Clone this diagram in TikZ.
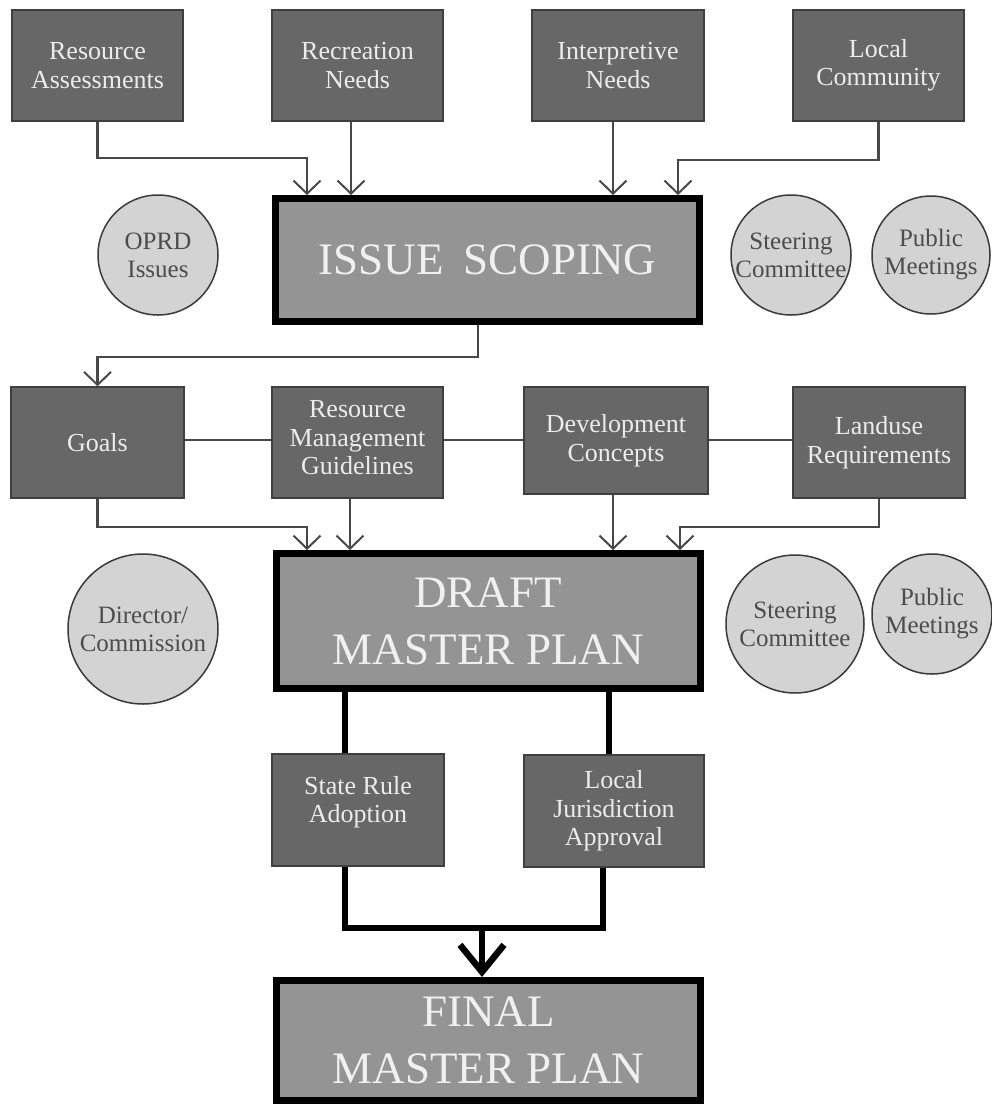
\documentclass[tikz,border=0pt]{standalone}
\usepackage{fontspec}
\setmainfont{Liberation Serif}
\usetikzlibrary{arrows.meta}
\definecolor{boxfill}{HTML}{676767}
\definecolor{boxline}{HTML}{3F3F3F}
\definecolor{boxtext}{HTML}{ECECEC}
\definecolor{bigfill}{HTML}{949494}
\definecolor{bigtext}{HTML}{F0F0F0}
\definecolor{circfill}{HTML}{D3D3D3}
\definecolor{circline}{HTML}{3A3A3A}
\definecolor{circtext}{HTML}{4C4C4C}
\definecolor{linec}{HTML}{484848}
\begin{document}
\begin{tikzpicture}[x=1pt,y=-1pt,
  sbox/.style={draw=boxline, line width=1.5pt, fill=boxfill, text=boxtext,
    minimum width=#1, minimum height=111pt, align=center, inner sep=2pt,
    font=\fontsize{26}{28.5}\selectfont},
  stext/.style={text=boxtext, align=center, inner sep=0pt,
    font=\fontsize{26}{28.5}\selectfont},
  bigbox/.style={draw=black, line width=7pt, fill=bigfill, text=bigtext,
    minimum width=424pt, align=center, inner sep=0pt,
    font=\fontsize{45}{57}\selectfont},
  circnode/.style={circle, draw=circline, line width=1.5pt, fill=circfill,
    text=circtext, minimum size=#1, inner sep=0pt, align=center,
    font=\fontsize{25}{28}\selectfont},
  conn/.style={draw=linec, line width=2.2pt,
    -{Straight Barb[length=13pt,width=27pt,line width=2pt]}},
  plain/.style={draw=linec, line width=2.2pt},
  thickline/.style={draw=black, line width=6.5pt, line join=miter},
  bigarr/.style={draw=black, line width=6.5pt,
    -{Straight Barb[length=27pt,width=44pt,line width=6.5pt]}}
]
\useasboundingbox[fill=white] (0,0) rectangle (992,1104);

% top row
\node[sbox=171pt] (RA) at (97.5,65.5) {Resource\\Assessments};
\node[sbox=171pt] (RN) at (357.5,65.5) {Recreation\\Needs};
\node[sbox=172pt] (IN) at (618,65.5) {Interpretive\\Needs};
\node[sbox=171pt] (LC) at (878.5,65.5) {Local\\Community};

% issue scoping
\node[bigbox, minimum height=123pt] (IS) at (487.5,260) {ISSUE\hspace{0.45em}SCOPING};

\node[circnode=120pt] (OPRD) at (158,255) {OPRD\\Issues};
\node[circnode=120pt] (SC1) at (791,255) {Steering\\Committee};
\node[circnode=118pt] (PM1) at (931,255) {Public\\Meetings};

% second row
\node[sbox=173pt] (GO) at (97.5,442.5) {Goals};
\node[sbox=171pt] (RMG) at (357.5,442.5) {};
\node[stext] (RMGt) at (357.5,438) {Resource\\Management\\Guidelines};
\node[sbox=184pt, minimum height=107pt] (DC) at (616,440.5) {Development\\Concepts};
\node[sbox=172pt] (LR) at (879,442.5) {Landuse\\Requirements};

% draft master plan
\node[bigbox, minimum height=135pt] (DM) at (488,621) {DRAFT\\MASTER PLAN};

\node[circnode=150pt] (DIR) at (143,629) {Director/\\Commission};
\node[circnode=138pt] (SC2) at (795,624) {Steering\\Committee};
\node[circnode=120pt] (PM2) at (932,614) {Public\\Meetings};

% third row
\node[sbox=172pt, minimum height=112pt] (SR) at (358,810) {};
\node[stext] (SRt) at (358,802) {State Rule\\Adoption};
\node[sbox=180pt, minimum height=112pt] (LJ) at (614,811) {Local\\Jurisdiction\\Approval};

% final master plan
\node[bigbox, minimum height=120pt] (FM) at (488.5,1040.5) {FINAL\\MASTER PLAN};

% connectors: top row -> issue scoping
\coordinate (b1) at (307,158);
\coordinate (b2) at (678,160);
\draw[conn] (RA.south) |- (b1) -- (IS.north -| b1);
\draw[conn] (RN.south -| 351,0) -- (IS.north -| 351,0);
\draw[conn] (IN.south -| 613,0) -- (IS.north -| 613,0);
\draw[conn] (LC.south) |- (b2) -- (IS.north -| b2);

% issue scoping -> goals
\coordinate (b3) at (478,357);
\draw[conn] (IS.south -| b3) -- (b3) -| (GO.north);

% second row links
\coordinate (hl) at (0,440);
\draw[plain] (GO.east |- hl) -- (RMG.west |- hl);
\draw[plain] (RMG.east |- hl) -- (DC.west |- hl);
\draw[plain] (DC.east |- hl) -- (LR.west |- hl);

% second row -> draft
\coordinate (b4) at (307,527);
\coordinate (b5) at (680,527);
\draw[conn] (GO.south) |- (b4) -- (DM.north -| b4);
\draw[conn] (RMG.south -| 350,0) -- (DM.north -| 350,0);
\draw[conn] (DC.south -| 613,0) -- (DM.north -| 613,0);
\draw[conn] (LR.south) |- (b5) -- (DM.north -| b5);

% draft -> approvals
\draw[thickline] (DM.south -| 345,0) -- (SR.north -| 345,0);
\draw[thickline] (DM.south -| 609,0) -- (LJ.north -| 609,0);

% approvals -> final
\coordinate (b6) at (345,928);
\coordinate (b7) at (482,928);
\draw[thickline] (SR.south -| b6) -- (b6) -| (LJ.south -| 603,0);
\draw[bigarr] (b7) -- (FM.north -| b7);
\end{tikzpicture}
\end{document}
